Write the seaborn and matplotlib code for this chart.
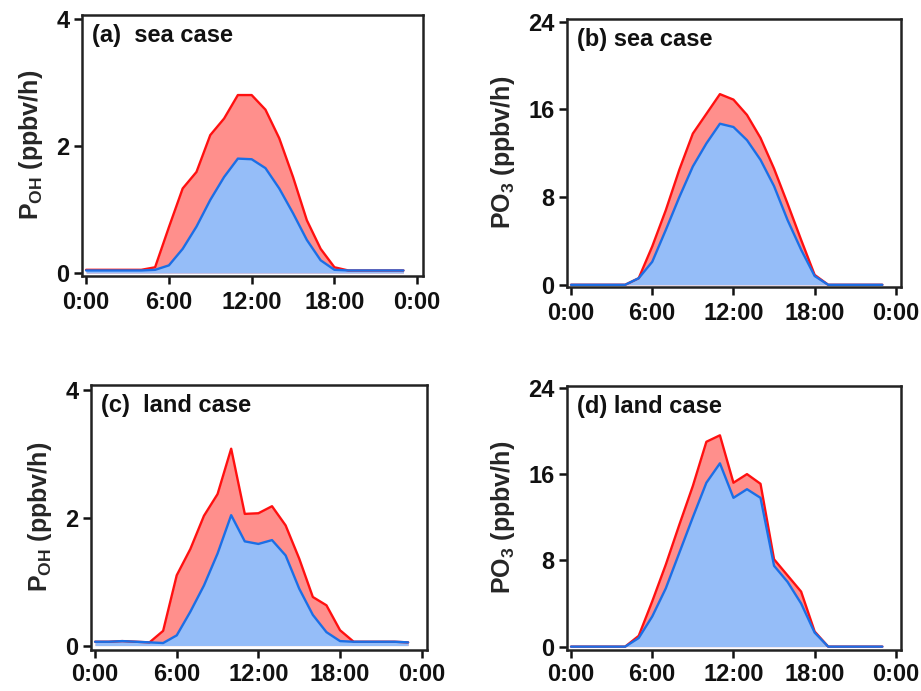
import numpy as np
import pandas as pd
import matplotlib
matplotlib.use("Agg")
import matplotlib.pyplot as plt
import seaborn as sns

hours = list(range(24))
xtick_pos = [0, 6, 12, 18, 24]
xtick_labels = ["0:00", "6:00", "12:00", "18:00", "0:00"]

# (a) sea case, P_OH
sea_oh_total = [0.05, 0.05, 0.05, 0.05, 0.05, 0.09, 0.72, 1.33, 1.59, 2.17, 2.43, 2.80,
                2.80, 2.57, 2.12, 1.51, 0.83, 0.38, 0.09, 0.04, 0.04, 0.04, 0.04, 0.04]
sea_oh_base = [0.04, 0.04, 0.04, 0.04, 0.04, 0.05, 0.12, 0.38, 0.73, 1.15, 1.51, 1.80,
               1.79, 1.65, 1.33, 0.94, 0.52, 0.20, 0.05, 0.04, 0.04, 0.04, 0.04, 0.04]
# (b) sea case, PO3
sea_o3_total = [0, 0, 0, 0, 0, 0.6, 3.5, 6.8, 10.5, 13.8, 15.6, 17.4,
                16.9, 15.5, 13.4, 10.6, 7.4, 4.1, 0.9, 0, 0, 0, 0, 0]
sea_o3_base = [0, 0, 0, 0, 0, 0.6, 2.1, 5.0, 8.0, 10.8, 12.9, 14.7,
               14.4, 13.2, 11.4, 9.0, 5.9, 3.2, 0.8, 0, 0, 0, 0, 0]
# (c) land case, P_OH
land_oh_total = [0.06, 0.06, 0.07, 0.06, 0.05, 0.23, 1.10, 1.51, 2.03, 2.37, 3.08, 2.06,
                 2.07, 2.18, 1.88, 1.36, 0.76, 0.63, 0.24, 0.06, 0.06, 0.06, 0.06, 0.05]
land_oh_base = [0.06, 0.06, 0.07, 0.06, 0.05, 0.04, 0.16, 0.53, 0.94, 1.44, 2.04, 1.63,
                1.59, 1.65, 1.41, 0.89, 0.48, 0.21, 0.07, 0.06, 0.06, 0.06, 0.06, 0.05]
# (d) land case, PO3
land_o3_total = [0, 0, 0, 0, 0, 1.0, 4.2, 7.6, 11.3, 14.9, 19.0, 19.6,
                 15.2, 16.0, 15.1, 8.1, 6.6, 5.1, 1.4, 0, 0, 0, 0, 0]
land_o3_base = [0, 0, 0, 0, 0, 0.8, 2.8, 5.4, 8.7, 12.0, 15.2, 17.0,
                13.8, 14.6, 13.8, 7.5, 6.0, 4.0, 1.3, 0, 0, 0, 0, 0]

titles = ["(a)  sea case", "(b) sea case", "(c)  land case", "(d) land case"]
ylabels = ["P$_{OH}$ (ppbv/h)", "PO$_3$ (ppbv/h)", "P$_{OH}$ (ppbv/h)", "PO$_3$ (ppbv/h)"]
yticks_oh = [0, 2, 4]
yticks_o3 = [0, 8, 16, 24]

sns.set_theme(style="ticks")
plt.rcParams["font.family"] = ["Liberation Sans", "DejaVu Sans"]
plt.rcParams["font.weight"] = "bold"
plt.rcParams["mathtext.fontset"] = "custom"
plt.rcParams["mathtext.rm"] = "Liberation Sans:bold"
plt.rcParams["mathtext.it"] = "Liberation Sans:bold"
plt.rcParams["mathtext.bf"] = "Liberation Sans:bold"
plt.rcParams["mathtext.default"] = "rm"

RED_FILL = "#FF8F8C"
RED_LINE = "#FF1010"
BLUE_FILL = "#95BDF8"
BLUE_LINE = "#1B6FE6"

fig = plt.figure(figsize=(9.21, 6.91), dpi=100)
positions = [
    [0.089, 0.6006, 0.370, 0.378],
    [0.6156, 0.5847, 0.363, 0.388],
    [0.0988, 0.0600, 0.365, 0.383],
    [0.6156, 0.0600, 0.363, 0.3815],
]
series = [
    (sea_oh_total, sea_oh_base, yticks_oh, (-0.047, 4.063)),
    (sea_o3_total, sea_o3_base, yticks_o3, (-0.2, 24.27)),
    (land_oh_total, land_oh_base, yticks_oh, (-0.062, 4.078)),
    (land_o3_total, land_o3_base, yticks_o3, (-0.27, 24.18)),
]

for i, (pos, (tot, base, yt, ylim)) in enumerate(zip(positions, series)):
    ax = fig.add_axes(pos)
    df = pd.DataFrame({"hour": hours, "total": tot, "base": base})
    ax.fill_between(df["hour"], 0, df["total"], color=RED_FILL, lw=0, zorder=1)
    ax.fill_between(df["hour"], 0, df["base"], color=BLUE_FILL, lw=0, zorder=2)
    sns.lineplot(data=df, x="hour", y="total", ax=ax, color=RED_LINE, lw=1.7, zorder=3)
    sns.lineplot(data=df, x="hour", y="base", ax=ax, color=BLUE_LINE, lw=1.7, zorder=4)
    ax.set_xlim(-0.3, 24.4)
    ax.set_ylim(*ylim)
    ax.set_xticks(xtick_pos)
    ax.set_xticklabels(xtick_labels)
    ax.set_yticks(yt)
    ax.set_yticklabels([str(v) for v in yt])
    ax.set_xlabel("")
    ax.set_ylabel(ylabels[i], fontsize=18, fontweight="bold", labelpad=8)
    ax.tick_params(axis="both", direction="out", length=6, width=1.8,
                   labelsize=17, colors="#111111")
    ax.tick_params(axis="x", pad=4 if i >= 2 else 5)
    ax.tick_params(axis="y", pad=3)
    for lab in ax.get_xticklabels() + ax.get_yticklabels():
        lab.set_fontweight("bold")
    for sp in ax.spines.values():
        sp.set_visible(True)
        sp.set_linewidth(1.8)
        sp.set_color("#222222")
    ax.text(0.03, 0.965, titles[i], transform=ax.transAxes, ha="left", va="top",
            fontsize=17, fontweight="bold", color="#111111")
    ax.grid(False)

fig.savefig("out.png", dpi=100)
